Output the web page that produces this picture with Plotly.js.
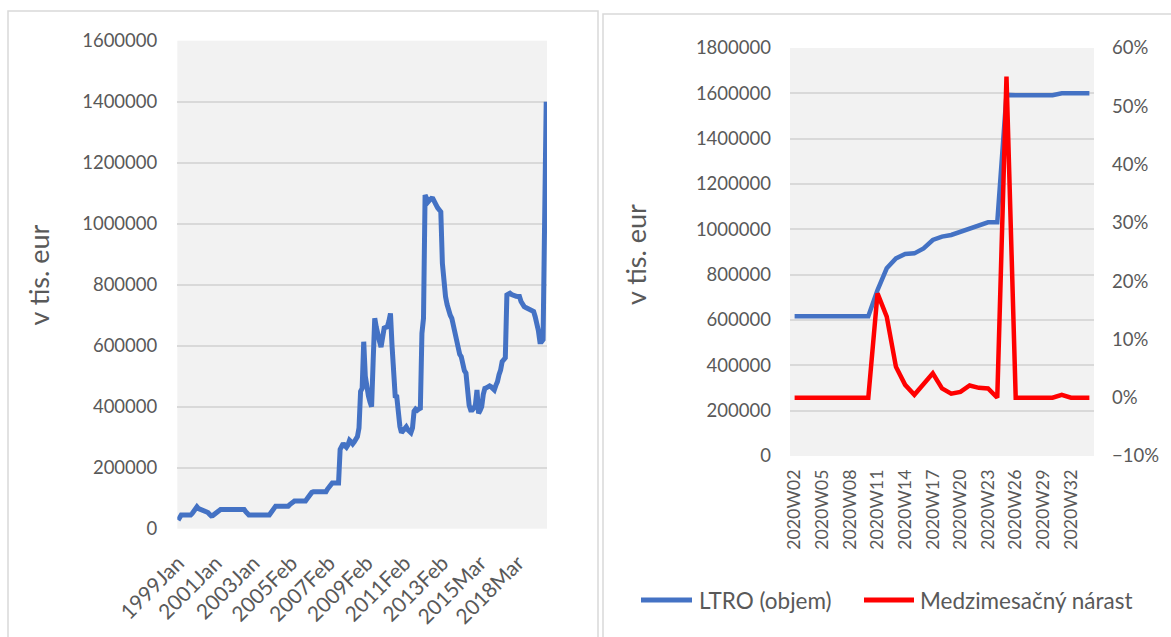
<!DOCTYPE html>
<html>
<head>
<meta charset="utf-8">
<script src="https://cdn.plot.ly/plotly-3.0.1.min.js"></script>
<style>html,body{margin:0;padding:0;background:#fff;}#chart{width:1171px;height:637px;}</style>
</head>
<body>
<div id="chart"></div>
<script>
// ---------- Left chart: LTRO, monthly (v tis. eur) ----------
const leftTickLabels = ["1999Jan","2001Jan","2003Jan","2005Feb","2007Feb","2009Feb","2011Feb","2013Feb","2015Mar","2018Mar"];
const leftTickIndex = [0, 24, 48, 72, 96, 120, 144, 168, 192, 216];
const leftValues = [
  28000, 42000, 45000, 45000, 45000, 45000, 45000, 45000, 45000,
  50000, 60000, 70000, 72000,
  66000, 64000, 62000, 61000, 60000, 59000,
  53000, 47000, 42000, 43000, 48000, 53000, 58000, 61000,
  63000, 63000, 63000, 63000, 63000, 63000, 63000, 63000, 63000, 63000, 63000, 63000, 63000, 63000, 63000, 63000,
  56000, 49000,
  45000, 45000, 45000, 45000, 45000, 45000, 45000, 45000, 45000, 45000, 45000, 45000, 45000, 45000,
  52000, 62000, 70000,
  74000, 74000, 74000, 74000, 74000, 74000, 74000, 74000, 74000,
  79000, 84000, 88000,
  91000, 91000, 91000, 91000, 91000, 91000, 91000, 91000,
  98000, 106000, 113000, 119000,
  121000, 121000, 121000, 121000, 121000, 121000, 121000, 121000, 121000,
  130000, 138000, 145000,
  150000, 150000, 150000, 150000, 150000,
  260000, 272000, 280000, 272000, 267000, 275000, 290000, 285000, 278000, 285000,
  295000, 302000, 330000, 450000, 460000, 613000, 500000, 455000, 435000, 415000,
  400000, 550000, 690000, 660000, 630000, 615000, 595000, 640000, 658000, 660000,
  662000, 680000, 706000, 600000, 500000, 435000, 433000, 360000, 335000, 315000,
  320000, 330000, 334000, 325000, 320000, 315000, 330000, 385000, 392000, 388000,
  392000, 395000, 640000, 690000, 1094000, 1080000, 1072000, 1078000, 1083000, 1082000,
  1075000, 1062000, 1052000, 1045000, 1039000, 870000, 790000, 761000, 735000, 712000,
  700000, 690000, 665000, 640000, 612000, 585000, 572000, 564000, 531000, 518000,
  510000, 450000, 405000, 389000, 389000, 395000, 406000, 455000, 378000, 388000,
  400000, 440000, 460000, 462000, 465000, 468000, 465000, 460000, 455000, 470000,
  482000, 505000, 520000, 548000, 555000, 560000, 766000, 770000, 772000, 768000,
  765000, 763000, 762000, 761000, 761000, 745000, 735000, 728000, 725000, 723000,
  722000, 720000, 718000, 712000, 695000, 675000, 650000, 613000, 613000, 620000,
  975000, 1400000
];

// ---------- Right chart: 2020 weekly ----------
const weeks = ["2020W02","2020W03","2020W04","2020W05","2020W06","2020W07","2020W08","2020W09","2020W10","2020W11",
               "2020W12","2020W13","2020W14","2020W15","2020W16","2020W17","2020W18","2020W19","2020W20","2020W21",
               "2020W22","2020W23","2020W24","2020W25","2020W26","2020W27","2020W28","2020W29","2020W30","2020W31",
               "2020W32","2020W33","2020W34"];
const weekTickLabels = ["2020W02","2020W05","2020W08","2020W11","2020W14","2020W17","2020W20","2020W23","2020W26","2020W29","2020W32"];
const ltroWeekly = [617000, 617000, 617000, 617000, 617000, 617000, 617000, 617000, 617000, 732000,
                    828000, 872000, 891000, 894000, 916000, 953000, 968000, 975000, 988000, 1004000,
                    1019000, 1031000, 1031000, 1593000, 1592000, 1592000, 1592000, 1592000, 1592000, 1600000,
                    1600000, 1600000, 1600000];
const growthWeekly = [0, 0, 0, 0, 0, 0, -0.001, 0, 0, 0.179,
                      0.139, 0.053, 0.022, 0.005, 0.023, 0.042, 0.016, 0.007, 0.010, 0.021,
                      0.017, 0.016, 0.000, 0.551, 0, 0, 0, 0, 0, 0.005,
                      0, 0, 0];
const seriesNames = ["LTRO (objem)", "Medzimesačný nárast"];
const yTitle = "v tis. eur";

const W = 1171, H = 637;
const px = v => v / W;
const py = v => (H - v) / H;
const TXT = '#595959';
const FONT = 'Lato, "Open Sans", sans-serif';
const BLUE = '#4472C4', RED = '#FF0000';

const traces = [
  { x: leftValues.map((_, i) => i), y: leftValues, type: 'scatter', mode: 'lines',
    line: { color: BLUE, width: 5 }, xaxis: 'x', yaxis: 'y', showlegend: false, name: seriesNames[0] },
  { x: weeks, y: ltroWeekly, type: 'scatter', mode: 'lines', name: seriesNames[0],
    line: { color: BLUE, width: 4.5 }, xaxis: 'x2', yaxis: 'y2', showlegend: false },
  { x: weeks, y: growthWeekly, type: 'scatter', mode: 'lines', name: seriesNames[1],
    line: { color: RED, width: 4.5 }, xaxis: 'x2', yaxis: 'y3', showlegend: false }
];

const tickFont = { family: FONT, size: 18.5, color: TXT };
const gridC = '#d9d9d9';

const layout = {
  width: W, height: H,
  margin: { l: 0, r: 0, t: 0, b: 0 },
  paper_bgcolor: '#ffffff',
  plot_bgcolor: '#f2f2f2',
  showlegend: false,
  xaxis: {
    domain: [px(177.3), px(547)], range: [-0.5, leftValues.length - 0.5],
    tickvals: leftTickIndex, ticktext: leftTickLabels, tickangle: -45,
    showgrid: false, zeroline: false, showline: false, ticks: '',
    tickfont: { family: FONT, size: 21, color: TXT }, anchor: 'y', ticklabelstandoff: 17
  },
  yaxis: {
    domain: [py(528.7), py(40.7)], range: [0, 1600000], dtick: 200000,
    tickformat: 'd', showgrid: true, gridcolor: gridC, gridwidth: 1.7,
    zeroline: false, showline: false, ticks: '', tickfont: tickFont,
    ticklabelstandoff: 19, anchor: 'x'
  },
  xaxis2: {
    domain: [px(790), px(1094)], type: 'category', categoryarray: weeks,
    tickvals: weekTickLabels, ticktext: weekTickLabels, tickangle: -90,
    range: [-0.5, weeks.length - 0.5],
    showgrid: false, zeroline: false, showline: false, ticks: '',
    tickfont: { family: FONT, size: 17.8, color: TXT }, anchor: 'y2', ticklabelstandoff: 9
  },
  yaxis2: {
    domain: [py(456), py(48)], range: [0, 1800000], dtick: 200000,
    tickformat: 'd', showgrid: true, gridcolor: gridC, gridwidth: 1.7,
    zeroline: false, showline: false, ticks: '', tickfont: tickFont,
    ticklabelstandoff: 18, anchor: 'x2'
  },
  yaxis3: {
    domain: [py(456), py(48)], range: [-0.1, 0.6], dtick: 0.1, tickformat: '.0%',
    overlaying: 'y2', side: 'right', anchor: 'x2',
    showgrid: false, zeroline: false, showline: false, ticks: '', tickfont: tickFont,
    ticklabelstandoff: 17
  },
  shapes: [
    { type: 'rect', xref: 'paper', yref: 'paper', x0: px(8), x1: px(598), y0: -0.1, y1: py(11),
      line: { color: gridC, width: 1.5 }, fillcolor: 'rgba(0,0,0,0)', layer: 'below' },
    { type: 'rect', xref: 'paper', yref: 'paper', x0: px(603), x1: 1.1, y0: -0.1, y1: py(14),
      line: { color: gridC, width: 1.5 }, fillcolor: 'rgba(0,0,0,0)', layer: 'below' },
    { type: 'line', xref: 'paper', yref: 'paper', x0: px(641), x1: px(692), y0: py(600), y1: py(600),
      line: { color: BLUE, width: 5 } },
    { type: 'line', xref: 'paper', yref: 'paper', x0: px(864), x1: px(914), y0: py(600), y1: py(600),
      line: { color: RED, width: 5 } }
  ],
  annotations: [
    { xref: 'paper', yref: 'paper', x: px(38), y: py(275.5), xanchor: 'center', yanchor: 'middle',
      textangle: -90, text: yTitle, showarrow: false, font: { family: FONT, size: 27, color: TXT } },
    { xref: 'paper', yref: 'paper', x: px(635.5), y: py(254.5), xanchor: 'center', yanchor: 'middle',
      textangle: -90, text: yTitle, showarrow: false, font: { family: FONT, size: 27, color: TXT } },
    { xref: 'paper', yref: 'paper', x: px(697), y: py(600), xanchor: 'left', yanchor: 'middle',
      text: seriesNames[0], showarrow: false, font: { family: FONT, size: 22.5, color: TXT } },
    { xref: 'paper', yref: 'paper', x: px(918), y: py(600), xanchor: 'left', yanchor: 'middle',
      text: seriesNames[1], showarrow: false, font: { family: FONT, size: 22.5, color: TXT } }
  ]
};

Plotly.newPlot('chart', traces, layout, { staticPlot: true, displayModeBar: false });
</script>
</body>
</html>
